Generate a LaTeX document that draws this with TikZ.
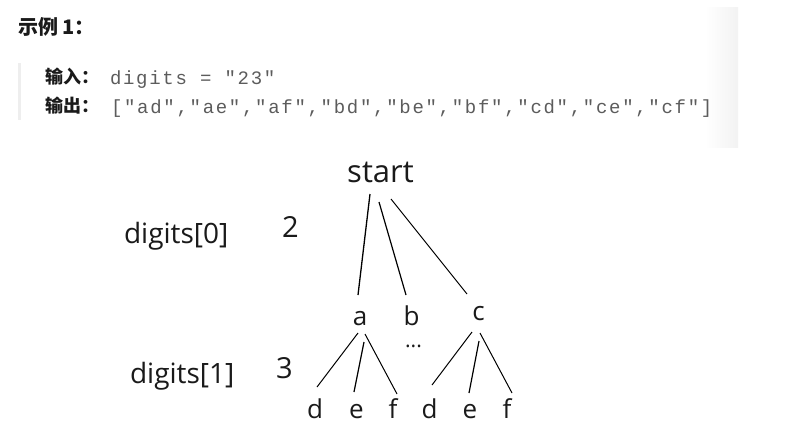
\documentclass[tikz,border=0pt]{standalone}
\usepackage{fontspec}
\setmainfont{Open Sans}
\newfontfamily\cjk{Noto Sans CJK SC}
\newfontfamily\mono[LetterSpace=9]{Liberation Mono}
\definecolor{txt}{HTML}{1A1A1A}
\definecolor{codegray}{HTML}{5C5C5C}
\definecolor{barcol}{HTML}{EEEEEE}
\begin{document}
\begin{tikzpicture}[x=1pt,y=-1pt,
  lbl/.style={inner sep=0pt,outer sep=0pt,text=txt,anchor=base},
  big/.style={lbl,font=\fontsize{31}{31}\selectfont},
  leaf/.style={lbl,font=\fontsize{26}{26}\selectfont},
  side/.style={lbl,anchor=base west,font=\fontsize{28}{28}\selectfont},
  num/.style={lbl,font=\fontsize{29}{29}\selectfont},
  head/.style={inner sep=0pt,outer sep=0pt,anchor=base west,text=txt,font=\cjk\bfseries\fontsize{18}{18}\selectfont},
  code/.style={inner sep=0pt,outer sep=0pt,anchor=base west,text=codegray,font=\mono\fontsize{19}{19}\selectfont},
  edge/.style={draw=black,line width=1pt}]
\useasboundingbox (0,0) rectangle (799,434);
\fill[white] (0,0) rectangle (799,434);
% top panel decorations
\shade[left color=white,right color=black!5] (705,7) rectangle (738,147);
\fill[barcol] (18,63) rectangle (21,120);
\node[head,font=\cjk\bfseries\fontsize{20}{20}\selectfont] (title) at (18,34) {示例 1：};
\node[head] (inlbl) at (45,83) {输入：};
\node[head] (outlbl) at (45,112) {输出：};
\node[code] (incode) at (110,84) {digits = "23"};
\node[code] (outcode) at (111,113) {["ad","ae","af","bd","be","bf","cd","ce","cf"]};
% tree
\node[big] (start) at (380.5,182) {start};
\node[leaf] (a) at (360,325) {a};
\node[leaf] (b) at (411.5,325) {b};
\node[leaf] (c) at (478.5,320) {c};
\node[lbl,font=\fontsize{21}{21}\selectfont] (dots) at (413.5,347) {...};
\node[leaf] (d1) at (315,418) {d};
\node[leaf] (e1) at (356.5,418) {e};
\node[leaf] (f1) at (393,418) {f};
\node[leaf] (d2) at (429.5,418) {d};
\node[leaf] (e2) at (470,418) {e};
\node[leaf] (f2) at (507,418) {f};
\node[side] (dg0) at (124,243) {digits[0]};
\node[side] (dg1) at (130,383) {digits[1]};
\node[num] (n2) at (290.5,237) {2};
\node[num] (n3) at (284.5,378) {3};
% connectors
\draw[edge,line width=1.3pt] ([shift={(-10.5,12)}]start.base) -- ([shift={(-2,-30)}]a.base);
\draw[edge,line width=1.2pt] ([shift={(-1.5,20)}]start.base) -- ([shift={(-5.5,-30)}]b.base);
\draw[edge] ([shift={(10.5,17)}]start.base) -- ([shift={(-11.5,-26)}]c.base);
\draw[edge] ([shift={(-2,8)}]a.base) -- ([shift={(2,-31)}]d1.base);
\draw[edge,line width=1.2pt] ([shift={(4,17)}]a.base) -- ([shift={(-2.5,-26)}]e1.base);
\draw[edge] ([shift={(5,9)}]a.base) -- ([shift={(4,-24)}]f1.base);
\draw[edge] ([shift={(-6.5,12)}]c.base) -- ([shift={(2.5,-33)}]d2.base);
\draw[edge,line width=1.2pt] ([shift={(0.5,21)}]c.base) -- ([shift={(-1,-25)}]e2.base);
\draw[edge] ([shift={(1.5,13)}]c.base) -- ([shift={(5,-25)}]f2.base);
\end{tikzpicture}
\end{document}
